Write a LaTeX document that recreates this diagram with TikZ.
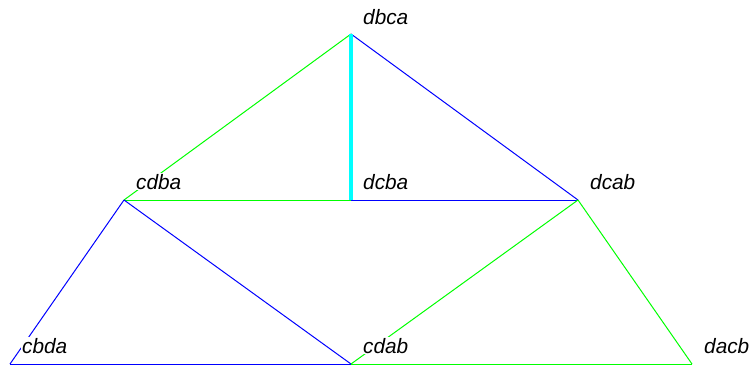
\documentclass[tikz,border=0pt]{standalone}
\usepackage{fontspec}
\setmainfont{Liberation Sans}
\definecolor{azulAresta}{RGB}{0,0,255}
\definecolor{verdeAresta}{RGB}{0,255,0}
\definecolor{cianoAresta}{RGB}{0,255,255}
\usetikzlibrary{positioning}
\tikzset{
  rotulo/.style={fill=white, inner sep=1pt, anchor=base west,
                 font=\fontsize{20.8}{24}\selectfont\itshape},
  arestaazul/.style={draw=azulAresta, line width=1pt},
  arestaverde/.style={draw=verdeAresta, line width=1pt},
  arestaciano/.style={draw=cianoAresta, line width=3.5pt},
}

\begin{document}
\begin{tikzpicture}[x=1pt, y=-1pt]
  \useasboundingbox (0,0) rectangle (749,367);
  % vertices
  \coordinate (dbca) at (351,34);
  \coordinate (cdba) at (124,200);
  \coordinate (dcba) at (351,200);
  \coordinate (dcab) at (578,200);
  \coordinate (cbda) at (10,364);
  \coordinate (cdab) at (351,364);
  \coordinate (dacb) at (692,364);
  % arestas
  \draw[arestaverde] (dbca) -- (cdba);
  \draw[arestaazul] (dbca) -- (dcab);
  \draw[arestaverde] (cdba) -- (dcba);
  \draw[arestaazul] (dcba) -- (dcab);
  \draw[arestaazul] (cdba) -- (cbda);
  \draw[arestaazul] (cdba) -- (cdab);
  \draw[arestaazul] (cbda) -- (cdab);
  \draw[arestaverde] (cdab) -- (dcab);
  \draw[arestaverde] (dcab) -- (dacb);
  \draw[arestaverde] (cdab) -- (dacb);
  \draw[arestaciano] (dbca) -- (dcba);
  % rotulos
  \node[rotulo] (r-dbca) at ([xshift=11pt,yshift=10pt]dbca) {dbca};
  \node[rotulo] (r-cdba) at ([xshift=11pt,yshift=11pt]cdba) {cdba};
  \node[rotulo] (r-dcba) at ([xshift=11pt,yshift=11pt]dcba) {dcba};
  \node[rotulo] (r-dcab) at ([xshift=11pt,yshift=11pt]dcab) {dcab};
  \node[rotulo] (r-cbda) at ([xshift=11pt,yshift=11pt]cbda) {cbda};
  \node[rotulo] (r-cdab) at ([xshift=11pt,yshift=11pt]cdab) {cdab};
  \node[rotulo] (r-dacb) at ([xshift=11pt,yshift=11pt]dacb) {dacb};
\end{tikzpicture}
\end{document}
